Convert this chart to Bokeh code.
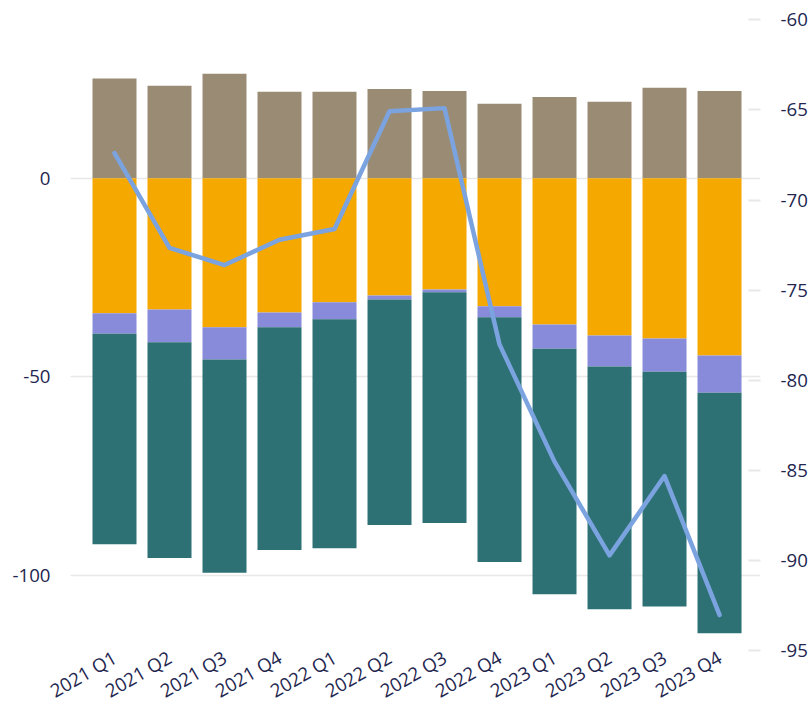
import math
from bokeh.plotting import figure
from bokeh.models import Range1d, LinearAxis, FixedTicker, ColumnDataSource, NumeralTickFormatter
from bokeh.embed import file_html
from bokeh.resources import INLINE

quarters = ["2021 Q1", "2021 Q2", "2021 Q3", "2021 Q4",
            "2022 Q1", "2022 Q2", "2022 Q3", "2022 Q4",
            "2023 Q1", "2023 Q2", "2023 Q3", "2023 Q4"]
positive = [25.1, 23.3, 26.3, 21.8, 21.8, 22.5, 22.0, 18.8, 20.5, 19.3, 22.8, 22.0]
neg_orange = [-34.0, -33.0, -37.5, -33.8, -31.2, -29.5, -28.0, -32.2, -36.8, -39.6, -40.3, -44.6]
neg_purple = [-5.1, -8.3, -8.1, -3.7, -4.3, -1.0, -0.7, -2.8, -6.1, -7.8, -8.4, -9.4]
neg_teal = [-53.0, -54.3, -53.7, -56.1, -57.6, -56.8, -58.1, -61.6, -61.8, -61.1, -59.1, -60.5]
line_vals = [-67.4, -72.65, -73.6, -72.2, -71.6, -65.07, -64.9, -78.0, -84.5, -89.7, -85.3, -93.0]

left_ticks = [-100, -50, 0]
right_ticks = [-95, -90, -85, -80, -75, -70, -65, -60]

FONT = "Open Sans"
FSIZE = "18.67px"
TXT = "#23264f"

Y_LEFT = (-120.13, 42.75)
Y_RIGHT = (-95.25, -59.376)

idx = list(range(len(quarters)))
src = ColumnDataSource(dict(x=idx, q=quarters, pos=positive, o=neg_orange, pu=neg_purple,
                            t=neg_teal, ln=line_vals))

p = figure(
    x_range=Range1d(-0.8, 11.745),
    y_range=Range1d(*Y_LEFT),
    width=810, height=716,
    output_backend="svg", toolbar_location=None,
    min_border_left=70, min_border_right=50, min_border_top=8, min_border_bottom=60,
)
p.extra_y_ranges = {"r": Range1d(*Y_RIGHT)}

p.vbar(x="x", top="pos", bottom=0, width=0.8, source=src, color="#9a8c74", line_color=None)
p.vbar_stack(["o", "pu", "t"], x="x", width=0.8, source=src,
             color=["#f5a800", "#878bd9", "#2d7175"], line_color=None)
p.line(x="x", y="ln", source=src, y_range_name="r", line_width=4.5,
       color="#7ba3e0", line_join="round", line_cap="round")

p.outline_line_color = None
p.xgrid.grid_line_color = None
p.ygrid.ticker = FixedTicker(ticks=left_ticks)
p.ygrid.grid_line_color = "#e8e8e8"
p.ygrid.grid_line_width = 1.5

xa = p.xaxis[0]
xa.ticker = FixedTicker(ticks=idx)
xa.major_label_overrides = {i: q for i, q in zip(idx, quarters)}
xa.axis_line_color = None
xa.major_tick_in = 0
xa.major_tick_out = 0
xa.minor_tick_line_color = None
xa.major_label_orientation = math.pi / 6
xa.major_label_standoff = 0
xa.major_label_text_font = FONT
xa.major_label_text_font_size = FSIZE
xa.major_label_text_color = TXT

ax = p.yaxis[0]
ax.ticker = FixedTicker(ticks=left_ticks)
ax.formatter = NumeralTickFormatter(format="0")
ax.axis_line_color = None
ax.major_tick_in = 0
ax.major_tick_out = 0
ax.minor_tick_line_color = None
ax.major_label_standoff = 20
ax.major_label_text_font = FONT
ax.major_label_text_font_size = FSIZE
ax.major_label_text_color = TXT

ra = LinearAxis(y_range_name="r", ticker=FixedTicker(ticks=right_ticks),
                formatter=NumeralTickFormatter(format="0"))
ra.axis_line_color = None
ra.minor_tick_line_color = None
ra.major_tick_in = 12
ra.major_tick_out = 0
ra.major_tick_line_color = "#e8e8e8"
ra.major_tick_line_width = 2
ra.major_label_standoff = 20
ra.major_label_text_font = FONT
ra.major_label_text_font_size = FSIZE
ra.major_label_text_color = TXT
p.add_layout(ra, "right")

open("out.html", "w").write(file_html(p, INLINE))
